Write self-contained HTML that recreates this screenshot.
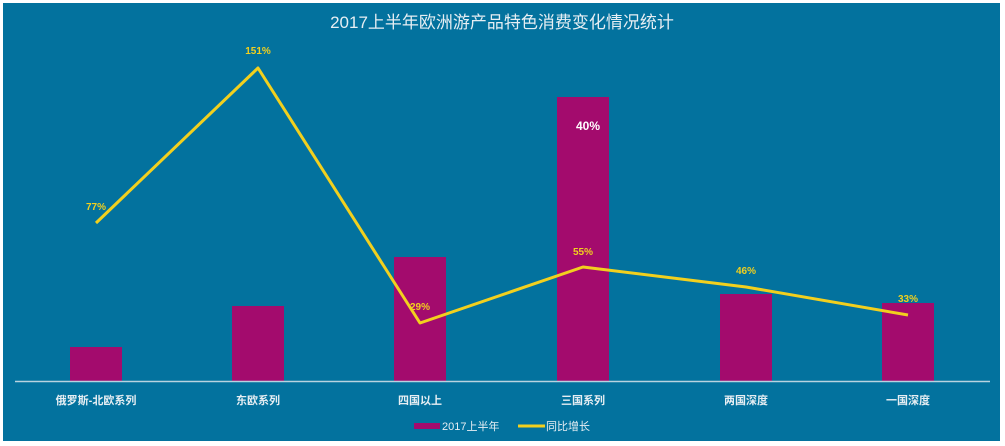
<!DOCTYPE html>
<html><head><meta charset="utf-8"><style>
html,body{margin:0;padding:0;background:#fff;}
svg{display:block;}
text{font-family:"Liberation Sans","Noto Sans CJK SC",sans-serif;}
</style></head><body>
<svg width="1005" height="446" viewBox="0 0 1005 446">
<rect x="0" y="0" width="1005" height="446" fill="#fff"/>
<rect x="3" y="3" width="997" height="438" fill="#03729E"/>
<text x="502" y="28" text-anchor="middle" font-size="17" fill="#e6eef3">2017上半年欧洲游产品特色消费变化情况统计</text>
<g fill="#A30B6D">
<rect x="70" y="347" width="52" height="34"/>
<rect x="232" y="306" width="52" height="75"/>
<rect x="394" y="257" width="52" height="124"/>
<rect x="557" y="97" width="52" height="284"/>
<rect x="720" y="294" width="52" height="87"/>
<rect x="882" y="303" width="52" height="78"/>
</g>
<line x1="15" y1="381.5" x2="990" y2="381.5" stroke="#b9d3e0" stroke-width="1.5"/>
<polyline points="96,223 258,68 420,323 583,267 746,287 908,315" fill="none" stroke="#F2D01E" stroke-width="3" stroke-linejoin="round"/>
<g font-size="10" font-weight="bold" fill="#F2D01E" text-anchor="middle">
<text x="96" y="210">77%</text>
<text x="258" y="54">151%</text>
<text x="420" y="310">29%</text>
<text x="583" y="255">55%</text>
<text x="746" y="274">46%</text>
<text x="908" y="302">33%</text>
</g>
<text x="588" y="130" font-size="12" font-weight="bold" fill="#fff" text-anchor="middle">40%</text>
<g font-size="11" font-weight="bold" fill="#e6eef3" text-anchor="middle">
<text x="96" y="404">俄罗斯-北欧系列</text>
<text x="258" y="404">东欧系列</text>
<text x="420" y="404">四国以上</text>
<text x="583" y="404">三国系列</text>
<text x="746" y="404">两国深度</text>
<text x="908" y="404">一国深度</text>
</g>
<rect x="414" y="423" width="26" height="6" fill="#A30B6D"/>
<text x="442" y="430" font-size="11" fill="#e6eef3">2017上半年</text>
<line x1="518" y1="426" x2="545" y2="426" stroke="#F2D01E" stroke-width="3"/>
<text x="546" y="430" font-size="11" fill="#e6eef3">同比增长</text>
</svg>
</body></html>
